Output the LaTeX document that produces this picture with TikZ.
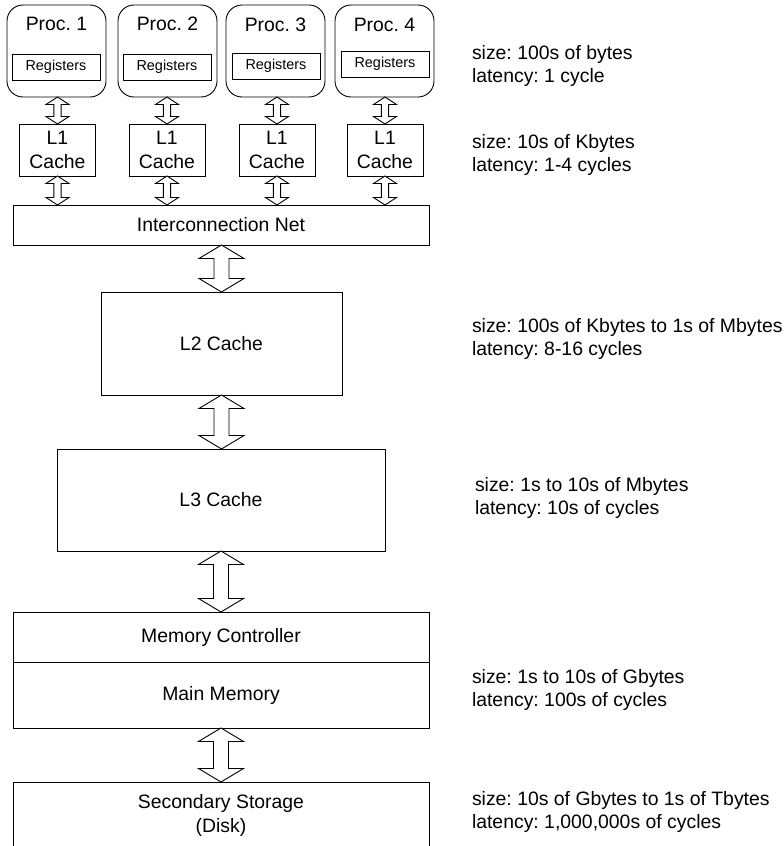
\documentclass[tikz,border=0pt]{standalone}
\usepackage{fontspec}
\setmainfont{Liberation Sans}
\usetikzlibrary{calc}
\frenchspacing

% vertical double-headed block arrow between two anchors
% #1 top tip, #2 bottom tip, #3 head half-width, #4 shaft half-width, #5 head length
\newcommand{\vbus}[5]{%
  \draw[bus] let \p1=(#1), \p2=(#2) in
    (\x1,\y1) -- (\x1+#3,\y1-#5) -- (\x1+#4,\y1-#5) -- (\x1+#4,\y2+#5)
    -- (\x1+#3,\y2+#5) -- (\x1,\y2) -- (\x1-#3,\y2+#5) -- (\x1-#4,\y2+#5)
    -- (\x1-#4,\y1-#5) -- (\x1-#3,\y1-#5) -- cycle;}
\newcommand{\smallbus}[2]{\vbus{#1}{#2}{11.5pt}{3.6pt}{7.5pt}}
\newcommand{\bigbus}[2]{\vbus{#1}{#2}{22.5pt}{7.5pt}{13.5pt}}

\begin{document}
\begin{tikzpicture}[x=1pt,y=-1pt,
  every node/.style={inner sep=0pt, outer sep=0pt},
  bigfont/.style={font=\fontsize{19.4}{24}\selectfont},
  box/.style={draw, line width=0.9pt, rectangle, anchor=north west,
    align=center, bigfont},
  proc/.style={draw, line width=0.9pt, rectangle, rounded corners=16pt,
    anchor=north west, minimum width=99pt, minimum height=92pt},
  ptitle/.style={bigfont},
  regbox/.style={draw, line width=0.9pt, rectangle, anchor=north west,
    minimum width=88pt, minimum height=26pt,
    font=\fontsize{14.4}{17}\selectfont},
  l1box/.style={box, minimum width=76pt, minimum height=52pt},
  bus/.style={draw, line width=0.9pt, fill=white, line join=miter},
  note/.style={anchor=west, align=left,
    font=\fontsize{19.4}{22.6}\selectfont}
]
\useasboundingbox (0,0) rectangle (784,846);
\clip (0,0) rectangle (784,846);

% processors with their register files
\node[proc] (p1) at (7,5) {};
\node[proc] (p2) at (118,5) {};
\node[proc] (p3) at (226,5) {};
\node[proc] (p4) at (335,5) {};
\node[ptitle] (p1t) at ($(p1.north)+(0,19)$) {Proc. 1};
\node[ptitle] (p2t) at ($(p2.north)+(0,19)$) {Proc. 2};
\node[ptitle] (p3t) at ($(p3.north)+(0,20)$) {Proc. 3};
\node[ptitle] (p4t) at ($(p4.north)+(0,19.5)$) {Proc. 4};
\node[regbox] (r1) at (12,54) {Registers};
\node[regbox] (r2) at (123,54) {Registers};
\node[regbox] (r3) at (232,53) {Registers};
\node[regbox] (r4) at (341,51) {Registers};

% private L1 caches
\node[l1box] (c1) at (19.5,124) {L1\\Cache};
\node[l1box] (c2) at (129,124) {L1\\Cache};
\node[l1box] (c3) at (239,124) {L1\\Cache};
\node[l1box] (c4) at (347,124) {L1\\Cache};

% shared levels
\node[box, minimum width=416pt, minimum height=40pt] (net) at (13,205) {Interconnection Net};
\node[box, minimum width=241pt, minimum height=103pt] (l2) at (101,292) {L2 Cache};
\node[box, minimum width=328pt, minimum height=102pt] (l3) at (57,449) {L3 Cache};
\node[box, minimum width=416pt, minimum height=50pt] (mc) at (13,612) {Memory Controller};
\node[box, minimum width=416pt, minimum height=66pt] (mm) at (13,662) {Main Memory};
\node[box, minimum width=416pt, minimum height=66pt] (ss) at (13,782) {Secondary Storage\\(Disk)};

% connections
\smallbus{c1.north |- p1.south}{c1.north}
\smallbus{c2.north |- p2.south}{c2.north}
\smallbus{c3.north |- p3.south}{c3.north}
\smallbus{c4.north |- p4.south}{c4.north}
\smallbus{c1.south}{c1.south |- net.north}
\smallbus{c2.south}{c2.south |- net.north}
\smallbus{c3.south}{c3.south |- net.north}
\smallbus{c4.south}{c4.south |- net.north}
\bigbus{l2.north |- net.south}{l2.north}
\bigbus{l2.south}{l2.south |- l3.north}
\bigbus{l3.south}{l3.south |- mc.north}
\bigbus{mm.south}{ss.north}

% size and latency of each level
\node[note] (n1) at (472,66) {size: 100s of bytes\\latency: 1 cycle};
\node[note] (n2) at (472,155) {size: 10s of Kbytes\\latency: 1-4 cycles};
\node[note] (n3) at (472,339) {size: 100s of Kbytes to 1s of Mbytes\\latency: 8-16 cycles};
\node[note] (n4) at (475,498) {size: 1s to 10s of Mbytes\\latency: 10s of cycles};
\node[note] (n5) at (472,690) {size: 1s to 10s of Gbytes\\latency: 100s of cycles};
\node[note] (n6) at (472,812) {size: 10s of Gbytes to 1s of Tbytes\\latency: 1,000,000s of cycles};
\end{tikzpicture}
\end{document}
